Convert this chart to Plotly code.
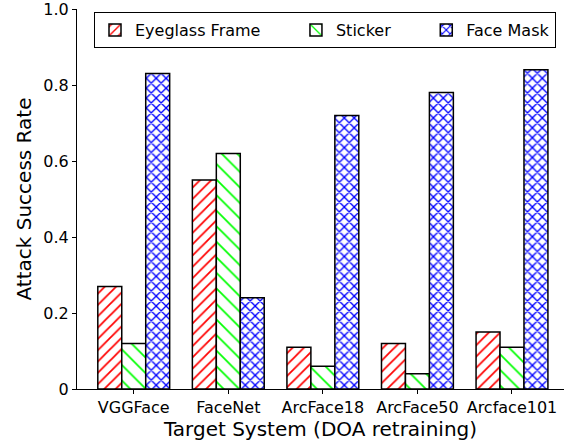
import plotly.graph_objects as go

categories = ["VGGFace", "FaceNet", "ArcFace18", "ArcFace50", "Arcface101"]
eyeglass = [0.27, 0.55, 0.11, 0.12, 0.15]
sticker = [0.12, 0.62, 0.06, 0.04, 0.11]
facemask = [0.83, 0.24, 0.72, 0.78, 0.84]
series_names = ["Eyeglass Frame", "Sticker", "Face Mask"]
ytick_vals = [0, 0.2, 0.4, 0.6, 0.8, 1.0]
ytick_text = ["0", "0.2", "0.4", "0.6", "0.8", "1.0"]

styles = [
    dict(color="#ff0000", shape="/", size=8, solidity=0.22),
    dict(color="#00ff00", shape="\\", size=11, solidity=0.16),
    dict(color="#0000ff", shape="x", size=7, solidity=0.35),
]
pad = "\u00a0" * 6

fig = go.Figure()
for i, (name, vals, st) in enumerate(zip(series_names, [eyeglass, sticker, facemask], styles)):
    fig.add_trace(go.Bar(
        name=name + (pad if i < len(series_names) - 1 else ""),
        x=list(range(len(categories))), y=vals,
        marker=dict(
            color="white",
            line=dict(color="black", width=1.5),
            pattern=dict(shape=st["shape"], fgcolor=st["color"], bgcolor="white",
                         size=st["size"], solidity=st["solidity"], fgopacity=1,
                         fillmode="overlay"),
        ),
    ))

fig.update_layout(
    barmode="group", bargap=0.24, bargroupgap=0,
    width=573, height=445,
    margin=dict(l=77, r=9, t=9, b=56, autoexpand=False),
    plot_bgcolor="white", paper_bgcolor="white",
    font=dict(family="DejaVu Sans", size=16, color="black"),
    legend=dict(orientation="h", x=(94 - 77) / 487, xanchor="left", y=0.992, yanchor="top",
                bordercolor="black", borderwidth=1, bgcolor="white",
                font=dict(size=16)),
    xaxis=dict(tickvals=list(range(len(categories))), ticktext=categories,
               range=[-0.6, 4.55], showline=True, linecolor="black", linewidth=1,
               ticks="outside", ticklen=4, tickcolor="black", showgrid=False,
               automargin=False, tickfont=dict(size=16), ticklabeloverflow="allow",
               title=dict(text="Target System (DOA retraining)", font=dict(size=20), standoff=4)),
    yaxis=dict(range=[0, 1.0], tickvals=ytick_vals, ticktext=ytick_text,
               showline=True, linecolor="black", linewidth=1,
               ticks="outside", ticklen=4, tickcolor="black", showgrid=False,
               zeroline=False, automargin=False, tickfont=dict(size=16),
               ticklabeloverflow="allow",
               title=dict(text="Attack Success Rate", font=dict(size=20), standoff=6)),
)

fig.write_html("out.html", config={"displayModeBar": False},
               post_script="document.body.style.margin='0';")
